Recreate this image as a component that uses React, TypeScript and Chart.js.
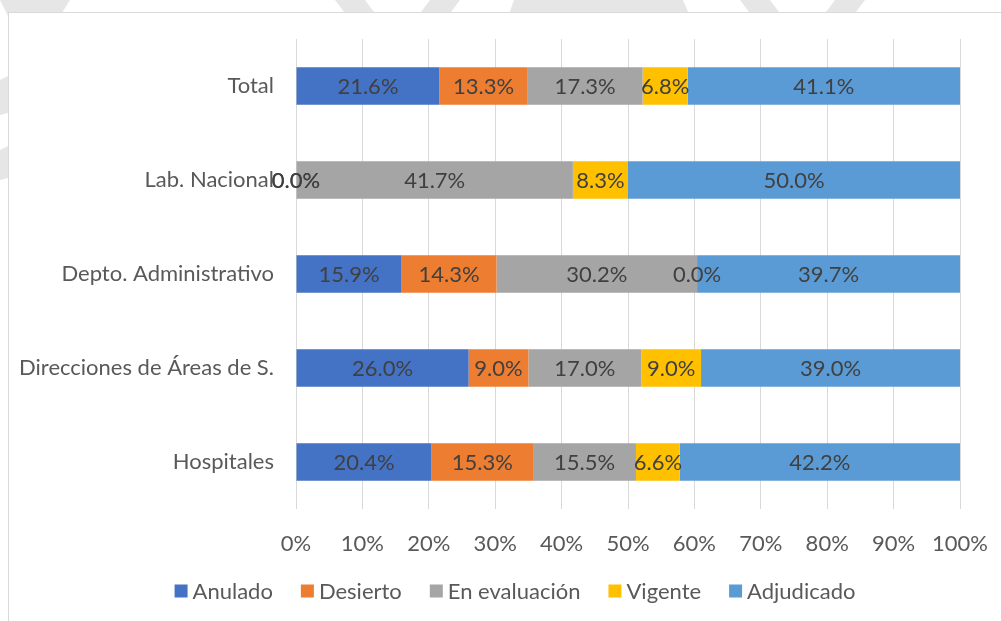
import React, { useEffect, useRef } from "react";
import { Chart, registerables } from "chart.js";

Chart.register(...registerables);

const categories = [
  "Total",
  "Lab. Nacional",
  "Depto. Administrativo",
  "Direcciones de Áreas de S.",
  "Hospitales",
];
const seriesNames = ["Anulado", "Desierto", "En evaluación", "Vigente", "Adjudicado"];
const anulado = [21.6, 0.0, 15.9, 26.0, 20.4];
const desierto = [13.3, 0.0, 14.3, 9.0, 15.3];
const evaluacion = [17.3, 41.7, 30.2, 17.0, 15.5];
const vigente = [6.8, 8.3, 0.0, 9.0, 6.6];
const adjudicado = [41.1, 50.0, 39.7, 39.0, 42.2];
const seriesColors = ["#4472C4", "#ED7D31", "#A5A5A5", "#FFC000", "#5B9BD5"];
const xMin = 0;
const xMax = 100;
const xStep = 10;

const FONT = "Lato";
const FONT_SIZE = 22;

const dataLabelPlugin = {
  id: "dataLabels",
  afterDatasetsDraw(chart: any) {
    const ctx = chart.ctx;
    const area = chart.chartArea;
    ctx.save();
    ctx.font = `${FONT_SIZE}px ${FONT}`;
    ctx.fillStyle = "#404040";
    ctx.textAlign = "center";
    ctx.textBaseline = "middle";
    chart.data.datasets.forEach((ds: any, di: number) => {
      const meta = chart.getDatasetMeta(di);
      meta.data.forEach((el: any, i: number) => {
        const p = el.getProps(["x", "y", "base"], true);
        const a = Math.min(Math.max(p.x, area.left), area.right);
        const b = Math.min(Math.max(p.base, area.left), area.right);
        const cx = (a + b) / 2;
        ctx.fillText(Number(ds.data[i]).toFixed(1) + "%", cx, p.y + 1);
      });
    });
    ctx.restore();
  },
};

const legendPlugin = {
  id: "customLegend",
  afterDraw(chart: any) {
    const ctx = chart.ctx;
    ctx.save();
    ctx.font = `${FONT_SIZE}px ${FONT}`;
    ctx.textBaseline = "middle";
    ctx.textAlign = "left";
    const box = 13;
    const gapBoxText = 5;
    const gapItems = 28;
    const widths = seriesNames.map((n) => box + gapBoxText + ctx.measureText(n).width);
    const total = widths.reduce((s, w) => s + w, 0) + gapItems * (widths.length - 1);
    let x = 515 - total / 2;
    const cy = 591;
    seriesNames.forEach((n, i) => {
      ctx.fillStyle = seriesColors[i];
      ctx.fillRect(x, cy - box / 2, box, box);
      ctx.fillStyle = "#595959";
      ctx.fillText(n, x + box + gapBoxText, cy + 1);
      x += widths[i] + gapItems;
    });
    ctx.restore();
  },
};

export default function App() {
  const ref = useRef<HTMLCanvasElement | null>(null);

  useEffect(() => {
    if (!ref.current) return;
    const values = [anulado, desierto, evaluacion, vigente, adjudicado];
    const chart = new Chart(ref.current, {
      type: "bar",
      data: {
        labels: categories,
        datasets: seriesNames.map((name, i) => ({
          label: name,
          data: values[i],
          backgroundColor: seriesColors[i],
          borderWidth: 0,
          barPercentage: 0.4,
          categoryPercentage: 1,
        })),
      },
      options: {
        indexAxis: "y",
        responsive: false,
        animation: false,
        devicePixelRatio: 1,
        layout: { padding: { top: 39, right: 41, bottom: 0, left: 0 } },
        plugins: {
          legend: { display: false },
          tooltip: { enabled: false },
        },
        scales: {
          x: {
            stacked: true,
            min: xMin,
            max: xMax,
            ticks: {
              stepSize: xStep,
              color: "#595959",
              font: { family: FONT, size: FONT_SIZE },
              padding: 22,
              callback: (v: any) => v + "%",
            },
            grid: { color: "#d9d9d9", lineWidth: 1, drawTicks: false },
            border: { display: false },
            afterFit: (s: any) => {
              s.height = 112;
              s.paddingLeft = 0;
              s.paddingRight = 0;
            },
          },
          y: {
            stacked: true,
            ticks: {
              color: "#595959",
              font: { family: FONT, size: FONT_SIZE },
              padding: 22,
            },
            grid: { display: false, drawTicks: false },
            border: { display: false },
            afterFit: (s: any) => {
              s.width = 296;
              s.paddingTop = 0;
              s.paddingBottom = 0;
            },
          },
        },
      },
      plugins: [dataLabelPlugin, legendPlugin],
    } as any);
    return () => chart.destroy();
  }, []);

  return (
    <div style={{ position: "fixed", left: 0, top: 0, width: 1001, height: 621, background: "#fff", overflow: "hidden" }}>
      <svg width={1001} height={621} style={{ position: "absolute", left: 0, top: 0 }}>
        <g fill="#e6e6e6">
          <polygon points="0,0 70,0 45,40 20,40" />
          <polygon points="335,0 365,0 395,40 365,40" />
          <polygon points="430,0 460,0 430,40 400,40" />
          <polygon points="514,0 683,0 700,40 500,40" />
          <polygon points="740,0 770,0 800,40 770,40" />
          <polygon points="835,0 865,0 835,40 805,40" />
          <polygon points="0,80 20,70 20,110 0,115" />
          <polygon points="0,150 20,140 20,175 0,180" />
        </g>
      </svg>
      <div
        style={{
          position: "absolute",
          left: 8,
          top: 12,
          width: 1010,
          height: 640,
          border: "1px solid #d9d9d9",
          background: "#fff",
          boxSizing: "border-box",
        }}
      />
      <canvas ref={ref} width={1001} height={621} style={{ position: "absolute", left: 0, top: 0 }} />
    </div>
  );
}
